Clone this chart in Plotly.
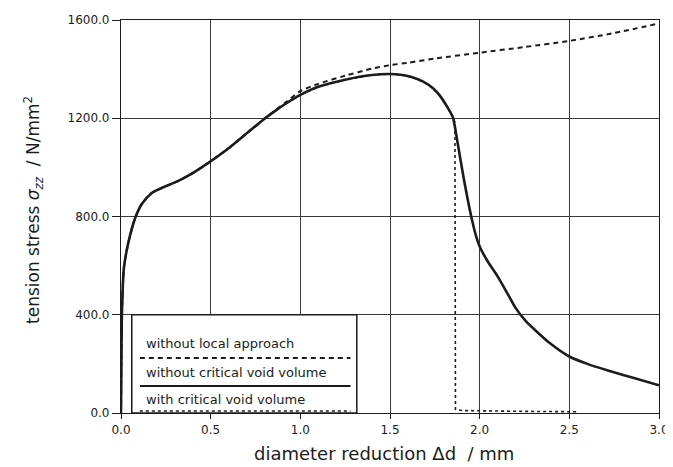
import plotly.graph_objects as go

# ---- data ----
x_solid = [0.0, 0.002, 0.005, 0.016, 0.043, 0.08, 0.115, 0.17, 0.245, 0.32, 0.38, 0.45,
           0.52, 0.6, 0.67, 0.74, 0.8, 0.86, 0.92, 1.0, 1.1, 1.25, 1.4, 1.5, 1.56, 1.62,
           1.685, 1.74, 1.78, 1.82, 1.85, 1.877, 1.91, 1.953, 1.98, 2.0, 2.04, 2.1,
           2.16, 2.2, 2.26, 2.31, 2.385, 2.5, 2.6, 2.72, 2.87, 3.0]
y_solid = [0, 200, 400, 590, 700, 796, 850, 895, 922, 945, 968, 1000,
           1035, 1078, 1120, 1162, 1198, 1230, 1260, 1295, 1328, 1357, 1376, 1380, 1377, 1368,
           1349, 1322, 1290, 1245, 1205, 1100, 960, 800, 720, 678, 623, 556,
           480, 428, 372, 337, 288, 230, 200, 172, 140, 113]

x_dashed = [0.0, 0.002, 0.005, 0.016, 0.043, 0.08, 0.115, 0.17, 0.245, 0.32, 0.38, 0.45,
            0.52, 0.6, 0.67, 0.74, 0.8, 0.86, 0.92, 1.0, 1.1, 1.25, 1.4, 1.5, 1.6, 1.75,
            2.0, 2.25, 2.5, 2.75, 3.0]
y_dashed = [0, 200, 400, 590, 700, 796, 850, 895, 922, 945, 968, 1000,
            1035, 1078, 1120, 1162, 1198, 1232, 1266, 1310, 1340, 1373, 1402, 1416, 1426, 1443,
            1467, 1490, 1515, 1547, 1586]

x_dotted = x_solid[:31] + [1.862, 1.865, 1.9, 2.2, 2.55]
y_dotted = y_solid[:31] + [1185, 15, 10, 7, 5]

x_ticks = [0.0, 0.5, 1.0, 1.5, 2.0, 2.5, 3.0]
y_ticks = [0.0, 400.0, 800.0, 1200.0, 1600.0]

legend_labels = ["without local approach", "without critical void volume", "with critical void volume"]

FONT = "DejaVu Sans"
INK = "#1c1c1c"

fig = go.Figure()
fig.add_trace(go.Scatter(x=x_dashed, y=y_dashed, mode="lines",
                         line=dict(color=INK, width=2, dash="5px,4px", shape="spline", smoothing=0.7),
                         showlegend=False))
fig.add_trace(go.Scatter(x=x_dotted, y=y_dotted, mode="lines", line=dict(color=INK, width=1.6, dash="dot"),
                         showlegend=False))
fig.add_trace(go.Scatter(x=x_solid, y=y_solid, mode="lines",
                         line=dict(color=INK, width=2.6, shape="spline", smoothing=0.7),
                         showlegend=False))

# legend box drawn inside the plot
box_x0, box_x1, box_y0, box_y1 = 0.06, 1.315, 0, 400
fig.add_shape(type="rect", x0=box_x0, x1=box_x1, y0=box_y0, y1=box_y1, xref="x", yref="y",
              fillcolor="white", line=dict(color=INK, width=1.5), layer="above")
samples = [(224, "5px,4px", 1.8), (110, "solid", 2.0), (8, "dot", 1.5)]
text_y = [282, 163, 57]
for (sy, dash, w), ty, lab in zip(samples, text_y, legend_labels):
    fig.add_shape(type="line", x0=0.105, x1=1.28, y0=sy, y1=sy, xref="x", yref="y",
                  line=dict(color=INK, width=w, dash=dash), layer="above")
    fig.add_annotation(x=0.13, y=ty, xref="x", yref="y", text=lab, showarrow=False,
                       xanchor="left", yanchor="middle", font=dict(family=FONT, size=13, color=INK))

# axis titles
fig.add_annotation(x=0.489, y=-0.104, xref="paper", yref="paper", showarrow=False,
                   text="diameter reduction Δd \u00a0/ mm", xanchor="center", yanchor="middle",
                   font=dict(family=FONT, size=18, color=INK))
fig.add_annotation(x=-0.1636, y=0.5165, xref="paper", yref="paper", showarrow=False, textangle=-90,
                   text="tension stress <i>σ</i><sub><i>zz</i></sub> \u00a0/ N/mm<sup>2</sup>",
                   xanchor="center", yanchor="middle", font=dict(family=FONT, size=17, color=INK))

# page body has an 8px margin, so the figure is 8px smaller and shifted
fig.update_layout(
    width=665, height=459,
    margin=dict(l=113, r=14, t=12, b=54),
    paper_bgcolor="white", plot_bgcolor="white",
    font=dict(family=FONT, size=12, color=INK),
)
fig.update_xaxes(range=[0, 3.0], tickvals=x_ticks, ticktext=[f"{v:.1f}" for v in x_ticks],
                 showgrid=True, gridcolor="#3a3a3a", gridwidth=1, zeroline=False, automargin=False,
                 showline=True, linecolor=INK, linewidth=1.2, mirror=True,
                 ticks="outside", ticklen=5, tickcolor=INK,
                 tickfont=dict(family=FONT, size=12, color=INK))
fig.update_yaxes(range=[0, 1600], tickvals=y_ticks, ticktext=[f"{v:.1f}" for v in y_ticks],
                 showgrid=True, gridcolor="#3a3a3a", gridwidth=1, zeroline=False, automargin=False,
                 showline=True, linecolor=INK, linewidth=1.2, mirror=True,
                 ticks="outside", ticklen=8, tickcolor=INK,
                 tickfont=dict(family=FONT, size=12, color=INK))

fig.write_html("out.html")
